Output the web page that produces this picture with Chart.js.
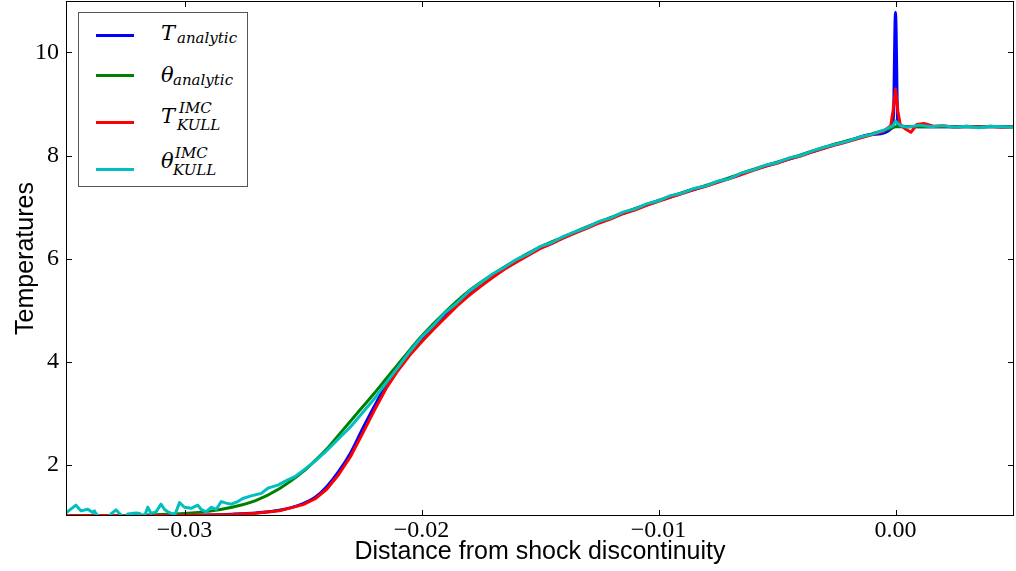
<!DOCTYPE html>
<html>
<head>
<meta charset="utf-8">
<script src="https://cdn.jsdelivr.net/npm/chart.js@4.4.1/dist/chart.umd.min.js"></script>
<style>
  body { margin: 0; background: #fff; }
  #wrap { position: relative; width: 1016px; height: 571px; }
  #legend {
    position: absolute; left: 78px; top: 12px; width: 170px; height: 175px;
    border: 1px solid #555; background: #fff; box-sizing: border-box;
    font-family: 'DejaVu Serif', 'Liberation Serif', serif; font-style: italic; color: #000;
  }
  #legend .swatch { position: absolute; left: 17px; width: 38px; height: 3px; }
  #legend span { position: absolute; line-height: 1; white-space: nowrap; }
</style>
</head>
<body>
<div id="wrap">
  <canvas id="chart" width="1016" height="571"></canvas>
  <div id="legend"></div>
</div>
<script>
// tick values
const xTicks = [-0.03, -0.02, -0.01, 0.0];
const yTicks = [2, 4, 6, 8, 10];

// analytic solution, shared x grid
const xAnalytic = [-0.035, -0.033, -0.031, -0.030, -0.029, -0.028, -0.027, -0.026, -0.025, -0.0245,
  -0.024, -0.0235, -0.023, -0.0225, -0.022, -0.0215, -0.021, -0.0205, -0.020, -0.019,
  -0.018, -0.017, -0.016, -0.015, -0.014, -0.013, -0.012, -0.011, -0.010, -0.009,
  -0.008, -0.007, -0.006, -0.005, -0.004, -0.003, -0.002, -0.001, -0.0001, 0.0,
  0.0001, 0.001, 0.002, 0.003, 0.004, 0.005];
const tAnalytic = [1.01, 1.01, 1.01, 1.015, 1.02, 1.035, 1.06, 1.11, 1.24, 1.36,
  1.57, 1.86, 2.22, 2.68, 3.12, 3.55, 3.88, 4.17, 4.43, 4.90,
  5.33, 5.67, 5.96, 6.21, 6.41, 6.61, 6.79, 6.96, 7.12, 7.27,
  7.41, 7.56, 7.72, 7.86, 8.00, 8.15, 8.28, 8.41, 8.56, 10.78,
  8.58, 8.56, 8.56, 8.56, 8.56, 8.56];
const thetaAnalytic = [1.01, 1.01, 1.03, 1.05, 1.09, 1.17, 1.30, 1.53, 1.86, 2.07,
  2.30, 2.57, 2.84, 3.11, 3.38, 3.66, 3.94, 4.22, 4.49, 4.96,
  5.37, 5.69, 5.97, 6.22, 6.42, 6.62, 6.80, 6.97, 7.13, 7.28,
  7.42, 7.57, 7.73, 7.87, 8.01, 8.16, 8.29, 8.42, 8.54, 8.56,
  8.56, 8.56, 8.56, 8.56, 8.56, 8.56];

// KULL IMC material temperature
const xKullT = [-0.035, -0.033, -0.031, -0.030, -0.029, -0.028, -0.027, -0.026, -0.025, -0.0245,
  -0.024, -0.0235, -0.023, -0.0225, -0.022, -0.0215, -0.021, -0.0205, -0.020, -0.0195,
  -0.019, -0.0185, -0.018, -0.0175, -0.017, -0.0165, -0.016, -0.0155, -0.015, -0.0145,
  -0.014, -0.0135, -0.013, -0.0125, -0.012, -0.0115, -0.011, -0.0105, -0.010, -0.0095,
  -0.009, -0.0085, -0.008, -0.0075, -0.007, -0.0065, -0.006, -0.0055, -0.005, -0.0045,
  -0.004, -0.0035, -0.003, -0.0025, -0.002, -0.0015, -0.001, -0.0005, -0.0002, -0.0001,
  0.0, 0.0001, 0.0002, 0.0004, 0.00065, 0.0009, 0.0012, 0.0016, 0.002, 0.0025,
  0.003, 0.0035, 0.004, 0.0045, 0.005];
const tKull = [1.01, 1.01, 1.01, 1.015, 1.02, 1.03, 1.055, 1.10, 1.22, 1.33,
  1.52, 1.80, 2.15, 2.59, 3.04, 3.47, 3.82, 4.12, 4.38, 4.62,
  4.85, 5.08, 5.28, 5.46, 5.63, 5.79, 5.93, 6.06, 6.19, 6.29,
  6.40, 6.50, 6.59, 6.69, 6.77, 6.87, 6.94, 7.03, 7.11, 7.19,
  7.26, 7.34, 7.40, 7.48, 7.55, 7.63, 7.71, 7.79, 7.85, 7.93,
  7.99, 8.07, 8.14, 8.21, 8.27, 8.34, 8.40, 8.47, 8.58, 8.88,
  9.29, 8.86, 8.60, 8.52, 8.45, 8.60, 8.62, 8.57, 8.58, 8.55,
  8.57, 8.55, 8.57, 8.55, 8.56];

// KULL IMC radiation temperature (noisy)
const xKullTheta = [-0.0350, -0.03458, -0.03437, -0.03408, -0.03387, -0.03380, -0.03373, -0.03350, -0.03325, -0.03310,
  -0.03289, -0.03275, -0.03255, -0.03239, -0.03204, -0.03190, -0.03170, -0.03155, -0.03141, -0.03120,
  -0.03099, -0.03085, -0.03070, -0.03056, -0.03040, -0.03021, -0.03000, -0.02972, -0.02944, -0.02930,
  -0.02909, -0.02888, -0.02866, -0.02845, -0.02824, -0.02803, -0.02775, -0.02754, -0.02719, -0.02676,
  -0.02648, -0.02606, -0.02564, -0.02536, -0.0250, -0.0245, -0.024, -0.0235, -0.023, -0.0225,
  -0.022, -0.0215, -0.021, -0.0205, -0.020, -0.0195, -0.019, -0.0185, -0.018, -0.0175,
  -0.017, -0.0165, -0.016, -0.0155, -0.015, -0.0145, -0.014, -0.0135, -0.013, -0.0125,
  -0.012, -0.0115, -0.011, -0.0105, -0.010, -0.0095, -0.009, -0.0085, -0.008, -0.0075,
  -0.007, -0.0065, -0.006, -0.0055, -0.005, -0.0045, -0.004, -0.0035, -0.003, -0.0025,
  -0.002, -0.0015, -0.001, -0.0005, -0.0001, 0.0, 0.0002, 0.0005, 0.001, 0.0015,
  0.002, 0.0025, 0.003, 0.0035, 0.004, 0.0045, 0.005];
const thetaKull = [1.06, 1.21, 1.10, 1.13, 1.07, 1.10, 1.04, 0.96, 0.97, 1.04,
  1.12, 1.05, 0.97, 1.04, 1.06, 1.05, 0.98, 1.17, 1.05, 1.08,
  1.23, 1.13, 1.08, 1.05, 1.03, 1.26, 1.17, 1.15, 1.21, 1.13,
  1.08, 1.17, 1.13, 1.28, 1.25, 1.23, 1.28, 1.34, 1.39, 1.44,
  1.54, 1.60, 1.70, 1.76, 1.88, 2.06, 2.27, 2.50, 2.73, 3.00,
  3.27, 3.58, 3.88, 4.19, 4.47, 4.70, 4.95, 5.14, 5.36, 5.53,
  5.70, 5.83, 5.98, 6.09, 6.23, 6.31, 6.43, 6.52, 6.61, 6.72,
  6.79, 6.90, 6.96, 7.06, 7.12, 7.22, 7.27, 7.36, 7.41, 7.50,
  7.55, 7.66, 7.72, 7.81, 7.86, 7.95, 8.00, 8.09, 8.16, 8.22,
  8.28, 8.36, 8.41, 8.49, 8.58, 8.67, 8.58, 8.55, 8.59, 8.56,
  8.58, 8.55, 8.57, 8.54, 8.57, 8.56, 8.55];

// legend text pieces
const legendMain = ['T', 'θ', 'T', 'θ'];
const legendSub = ['analytic', 'analytic', 'KULL', 'KULL'];
const legendSup = ['', '', 'IMC', 'IMC'];

const pts = (xs, ys) => xs.map((x, i) => ({ x: x, y: ys[i] }));
const fmtTick = v => v.toFixed(2).replace('-', '\u2212');

function makeSet(label, xs, ys, color, order, smooth) {
  return {
    label: label,
    data: pts(xs, ys),
    borderColor: color,
    backgroundColor: color,
    borderWidth: 3,
    pointRadius: 0,
    fill: false,
    tension: 0,
    cubicInterpolationMode: smooth ? 'monotone' : 'default',
    borderJoinStyle: 'round',
    clip: 0,
    order: order
  };
}

const datasets = [
  makeSet('T analytic', xAnalytic, tAnalytic, '#0000ff', 4, true),
  makeSet('theta analytic', xAnalytic, thetaAnalytic, '#008000', 3, true),
  makeSet('T KULL IMC', xKullT, tKull, '#ff0000', 2, false),
  makeSet('theta KULL IMC', xKullTheta, thetaKull, '#00bfbf', 1, false)
];

// inward ticks + box, matplotlib style
const frame = {
  id: 'frame',
  afterDraw(chart) {
    const { ctx, chartArea: a, scales: { x, y } } = chart;
    ctx.save();
    ctx.strokeStyle = '#000';
    ctx.lineWidth = 1;
    ctx.beginPath();
    xTicks.forEach(v => {
      const px = Math.round(x.getPixelForValue(v)) + 0.5;
      ctx.moveTo(px, a.bottom); ctx.lineTo(px, a.bottom - 6);
      ctx.moveTo(px, a.top); ctx.lineTo(px, a.top + 6);
    });
    yTicks.forEach(v => {
      const py = Math.round(y.getPixelForValue(v)) + 0.5;
      ctx.moveTo(a.left, py); ctx.lineTo(a.left + 6, py);
      ctx.moveTo(a.right, py); ctx.lineTo(a.right - 6, py);
    });
    ctx.stroke();
    ctx.strokeRect(a.left + 0.5, a.top + 0.5, a.right - a.left - 1, a.bottom - a.top - 1);
    ctx.restore();
  }
};

const tickFont = { family: "'Liberation Serif', serif", size: 24 };
const titleFont = { family: "'Liberation Sans', sans-serif", size: 25 };

new Chart(document.getElementById('chart'), {
  type: 'line',
  data: { datasets: datasets },
  options: {
    responsive: false,
    animation: false,
    devicePixelRatio: 1,
    layout: { padding: { top: 1, right: 2, left: 0, bottom: 0 } },
    plugins: { legend: { display: false }, tooltip: { enabled: false } },
    scales: {
      x: {
        type: 'linear', min: -0.035, max: 0.005,
        grid: { display: false, drawTicks: false }, border: { display: false },
        ticks: { font: tickFont, color: '#000', padding: 0, maxRotation: 0, autoSkip: false, callback: fmtTick },
        afterBuildTicks: s => { s.ticks = xTicks.map(v => ({ value: v })); },
        afterFit: s => { s.height = 55; s.paddingLeft = 0; s.paddingRight = 0; },
        title: { display: true, text: 'Distance from shock discontinuity', font: titleFont, color: '#000', padding: { top: 0, bottom: 4 } }
      },
      y: {
        type: 'linear', min: 1, max: 11,
        grid: { display: false, drawTicks: false }, border: { display: false },
        ticks: { font: tickFont, color: '#000', padding: 7, autoSkip: false, callback: v => String(v) },
        afterBuildTicks: s => { s.ticks = yTicks.map(v => ({ value: v })); },
        afterFit: s => { s.width = 66; s.paddingTop = 0; s.paddingBottom = 0; },
        title: { display: true, text: 'Temperatures', font: titleFont, color: '#000', padding: { top: 11, bottom: 0 } }
      }
    }
  },
  plugins: [frame]
});

// legend with sub/superscripts (HTML so scripts can be stacked)
const legend = document.getElementById('legend');
const swatchY = [22, 62, 109, 156];       // centre of swatch, relative to box
const mainBase = [28, 70, 111, 156];      // baseline of main symbol
const mainSize = 21, scriptSize = 15;
function place(text, left, baseline, size) {
  const s = document.createElement('span');
  s.textContent = text;
  s.style.left = left + 'px';
  s.style.fontSize = size + 'px';
  s.style.top = (baseline - 0.85 * size) + 'px';
  legend.appendChild(s);
}
datasets.forEach((ds, i) => {
  const sw = document.createElement('div');
  sw.className = 'swatch';
  sw.style.background = ds.borderColor;
  sw.style.top = (swatchY[i] - 1.5) + 'px';
  legend.appendChild(sw);
  place(legendMain[i], 82, mainBase[i], mainSize);
  const sx = legendMain[i] === 'T' ? 98 : 94;
  if (legendSup[i]) {
    place(legendSup[i], sx + 2, mainBase[i] - 10, scriptSize);
    place(legendSub[i], sx, mainBase[i] + 7, scriptSize);
  } else {
    place(legendSub[i], sx, mainBase[i] + 3, scriptSize);
  }
});
</script>
</body>
</html>
